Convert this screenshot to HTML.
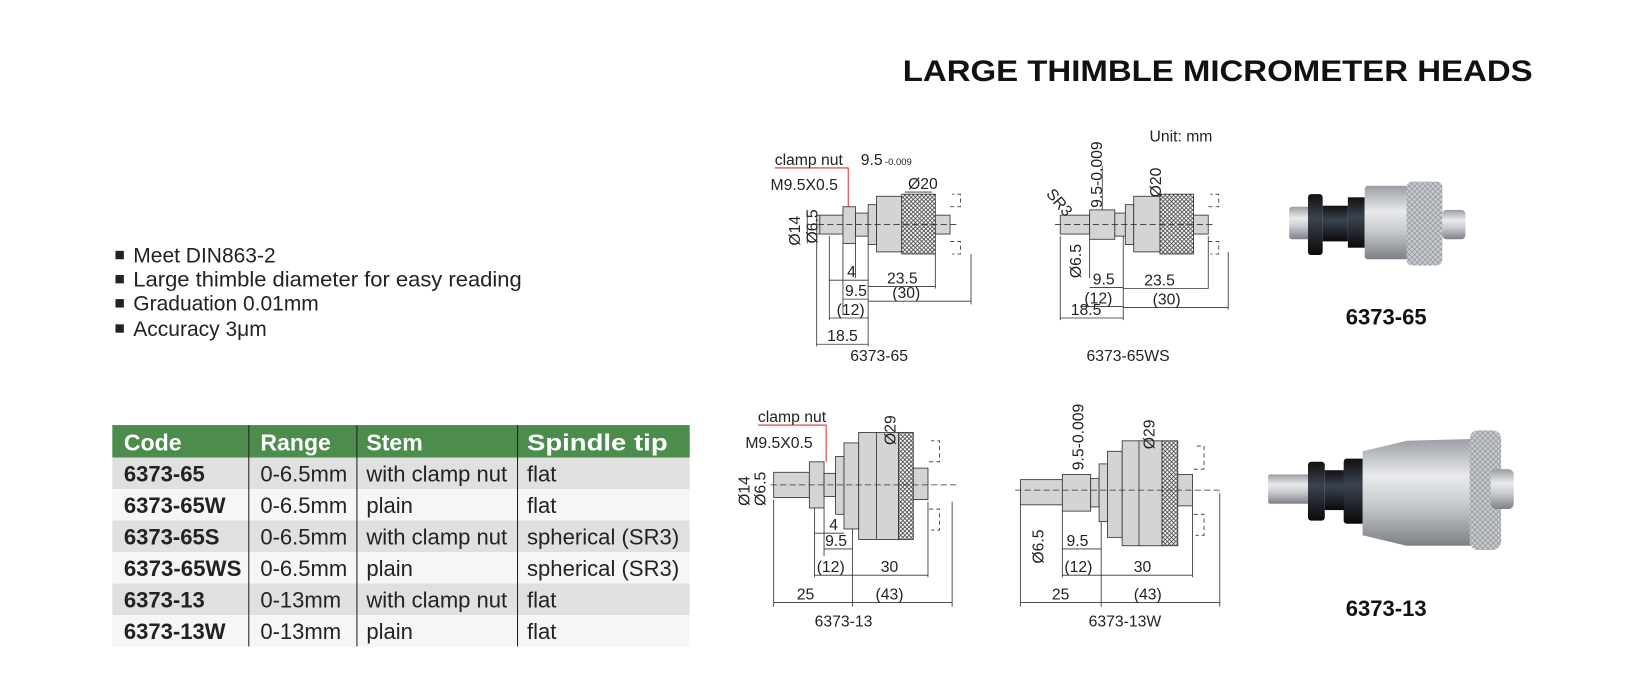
<!DOCTYPE html>
<html><head><meta charset="utf-8"><style>
html,body{margin:0;padding:0;background:#fff;}
svg{display:block;}
text{font-family:"Liberation Sans",Arial,sans-serif;}
</style></head><body>
<svg width="1646" height="699" viewBox="0 0 1568 666" preserveAspectRatio="none" xmlns="http://www.w3.org/2000/svg">
<defs>
<linearGradient id="sil" x1="0" y1="0" x2="0" y2="1">
<stop offset="0" stop-color="#9a9ea4"/><stop offset="0.35" stop-color="#e8eaec"/><stop offset="0.6" stop-color="#c9ccd0"/><stop offset="1" stop-color="#7d8187"/></linearGradient>
<linearGradient id="blk" x1="0" y1="0" x2="0" y2="1">
<stop offset="0" stop-color="#111"/><stop offset="0.4" stop-color="#3a4450"/><stop offset="1" stop-color="#0a0a0a"/></linearGradient>
<pattern id="kn" width="4" height="4" patternUnits="userSpaceOnUse"><rect width="4" height="4" fill="#fff"/><path d="M0 0L4 4M4 0L0 4" stroke="#444" stroke-width="0.8"/></pattern>
<pattern id="kn2" width="5" height="5" patternUnits="userSpaceOnUse"><rect width="5" height="5" fill="#c8cbcf"/><path d="M0 0L5 5M5 0L0 5" stroke="#8d9196" stroke-width="0.7"/></pattern>
</defs>

<text x="860" y="77" font-size="28" font-weight="bold" fill="#111" textLength="600" lengthAdjust="spacingAndGlyphs">LARGE THIMBLE MICROMETER HEADS</text>

<g font-size="20" fill="#222">
<rect x="110" y="239" width="8" height="8" fill="#222"/><text x="127" y="250">Meet DIN863-2</text>
<rect x="110" y="262" width="8" height="8" fill="#222"/><text x="127" y="273" textLength="370" lengthAdjust="spacingAndGlyphs">Large thimble diameter for easy reading</text>
<rect x="110" y="285" width="8" height="8" fill="#222"/><text x="127" y="296">Graduation 0.01mm</text>
<rect x="110" y="309" width="8" height="8" fill="#222"/><text x="127" y="320">Accuracy 3μm</text>
</g>

<!-- table -->
<rect x="107" y="405" width="550" height="31" fill="#4c8c4c"/>
<rect x="107" y="436" width="550" height="30" fill="#e0e0e0"/>
<rect x="107" y="466" width="550" height="30" fill="#f6f6f6"/>
<rect x="107" y="496" width="550" height="30" fill="#e0e0e0"/>
<rect x="107" y="526" width="550" height="30" fill="#f6f6f6"/>
<rect x="107" y="556" width="550" height="30" fill="#e0e0e0"/>
<rect x="107" y="586" width="550" height="30" fill="#f6f6f6"/>
<g stroke="#222" stroke-width="1"><line x1="237" y1="405" x2="237" y2="616"/><line x1="340" y1="405" x2="340" y2="616"/><line x1="493" y1="405" x2="493" y2="616"/></g>
<g font-size="22" font-weight="bold" fill="#fff"><text x="118" y="429">Code</text><text x="248" y="429">Range</text><text x="349" y="429">Stem</text><text x="502" y="429" textLength="134" lengthAdjust="spacingAndGlyphs">Spindle tip</text></g>
<g font-size="21" fill="#222">
<g font-weight="bold"><text x="118" y="459">6373-65</text><text x="118" y="489">6373-65W</text><text x="118" y="519">6373-65S</text><text x="118" y="549" textLength="112" lengthAdjust="spacingAndGlyphs">6373-65WS</text><text x="118" y="579">6373-13</text><text x="118" y="609">6373-13W</text></g>
<text x="248" y="459">0-6.5mm</text><text x="248" y="489">0-6.5mm</text><text x="248" y="519">0-6.5mm</text><text x="248" y="549">0-6.5mm</text><text x="248" y="579">0-13mm</text><text x="248" y="609">0-13mm</text>
<text x="349" y="459">with clamp nut</text><text x="349" y="489">plain</text><text x="349" y="519">with clamp nut</text><text x="349" y="549">plain</text><text x="349" y="579">with clamp nut</text><text x="349" y="609">plain</text>
<text x="502" y="459">flat</text><text x="502" y="489">flat</text><text x="502" y="519" textLength="145" lengthAdjust="spacingAndGlyphs">spherical (SR3)</text><text x="502" y="549" textLength="145" lengthAdjust="spacingAndGlyphs">spherical (SR3)</text><text x="502" y="579">flat</text><text x="502" y="609">flat</text>
</g>

<g stroke="#333" stroke-width="0.8" fill="#d4d4d4" font-size="15">
<!-- 6373-65 -->
<rect x="778" y="205" width="25" height="18"/>
<rect x="803" y="197" width="12" height="35"/>
<rect x="815" y="203" width="12" height="22"/>
<rect x="827" y="195" width="8" height="38"/>
<rect x="835" y="187" width="24" height="53"/>
<rect x="859" y="185" width="32" height="57" fill="url(#kn)"/>
<rect x="891" y="205" width="14" height="18"/>
<path d="M905 197h10v-12h-8M905 230h10v12h-8" fill="none" stroke-dasharray="4 3"/>
<line x1="770" y1="214" x2="912" y2="214" stroke-dasharray="6 3"/>
<text x="738" y="157" stroke="none" fill="#222">clamp nut</text>
<path d="M738 160h70v37" fill="none" stroke="#c00"/>
<text x="734" y="181" stroke="none" fill="#222">M9.5X0.5</text>
<text x="820" y="157" stroke="none" fill="#222">9.5</text><text x="843" y="157" stroke="none" fill="#222" font-size="9">-0.009</text>
<text x="865" y="180" stroke="none" fill="#222">Ø20</text>
<line x1="862" y1="183" x2="888" y2="183"/>
<line x1="769" y1="200" x2="769" y2="232"/><line x1="781" y1="205" x2="781" y2="223"/>
<text x="762" y="234" stroke="none" fill="#222" transform="rotate(-90 762 234)">Ø14</text>
<text x="779" y="232" stroke="none" fill="#222" transform="rotate(-90 779 232)">Ø6.5</text>
<line x1="778" y1="225" x2="778" y2="330"/><line x1="790" y1="225" x2="790" y2="305"/><line x1="803" y1="232" x2="803" y2="300"/><line x1="815" y1="232" x2="815" y2="265"/><line x1="827" y1="232" x2="827" y2="330"/><line x1="891" y1="242" x2="891" y2="275"/><line x1="925" y1="242" x2="925" y2="290"/>
<line x1="790" y1="267" x2="827" y2="267"/><text x="807" y="264" stroke="none" fill="#222">4</text>
<line x1="827" y1="273" x2="891" y2="273"/><text x="845" y="270" stroke="none" fill="#222">23.5</text>
<line x1="803" y1="285" x2="827" y2="285"/><text x="805" y="282" stroke="none" fill="#222">9.5</text>
<line x1="827" y1="287" x2="925" y2="287"/><text x="850" y="284" stroke="none" fill="#222">(30)</text>
<line x1="790" y1="303" x2="827" y2="303"/><text x="797" y="300" stroke="none" fill="#222">(12)</text>
<line x1="778" y1="328" x2="827" y2="328"/><text x="788" y="325" stroke="none" fill="#222">18.5</text>
<text x="810" y="344" stroke="none" fill="#222">6373-65</text>

<!-- 6373-65WS -->
<rect x="1010" y="205" width="28" height="18"/>
<rect x="1038" y="200" width="24" height="28"/>
<rect x="1062" y="203" width="10" height="22"/>
<rect x="1072" y="195" width="8" height="38"/>
<rect x="1080" y="187" width="25" height="53"/>
<rect x="1105" y="185" width="32" height="57" fill="url(#kn)"/>
<rect x="1137" y="205" width="14" height="18"/>
<path d="M1151 197h10v-12h-8M1151 230h10v12h-8" fill="none" stroke-dasharray="4 3"/>
<line x1="1005" y1="214" x2="1158" y2="214" stroke-dasharray="6 3"/>
<text x="1095" y="135" stroke="none" fill="#222">Unit: mm</text>
<text x="996" y="185" stroke="none" fill="#222" transform="rotate(50 996 185)">SR3</text>
<line x1="1050" y1="200" x2="1050" y2="158"/>
<text x="1050" y="198" stroke="none" fill="#222" transform="rotate(-90 1050 198)">9.5-0.009</text>
<text x="1106" y="188" stroke="none" fill="#222" transform="rotate(-90 1106 188)">Ø20</text>
<text x="1030" y="265" stroke="none" fill="#222" transform="rotate(-90 1030 265)">Ø6.5</text>
<line x1="1010" y1="225" x2="1010" y2="305"/><line x1="1038" y1="228" x2="1038" y2="265"/><line x1="1070" y1="225" x2="1070" y2="305"/><line x1="1151" y1="225" x2="1151" y2="275"/><line x1="1170" y1="240" x2="1170" y2="295"/>
<line x1="1038" y1="274" x2="1070" y2="274"/><text x="1041" y="271" stroke="none" fill="#222">9.5</text>
<line x1="1070" y1="275" x2="1151" y2="275"/><text x="1090" y="272" stroke="none" fill="#222">23.5</text>
<line x1="1030" y1="292" x2="1070" y2="292"/><text x="1033" y="289" stroke="none" fill="#222">(12)</text>
<line x1="1070" y1="293" x2="1170" y2="293"/><text x="1098" y="290" stroke="none" fill="#222">(30)</text>
<line x1="1010" y1="303" x2="1070" y2="303"/><text x="1020" y="300" stroke="none" fill="#222">18.5</text>
<text x="1035" y="344" stroke="none" fill="#222">6373-65WS</text>
</g>

<!-- 6373-13 -->
<g stroke="#333" stroke-width="0.8" fill="#d4d4d4" font-size="15" transform="translate(-36 0)">
<rect x="773" y="450" width="34" height="24"/>
<rect x="807" y="440" width="14" height="44"/>
<rect x="821" y="451" width="11" height="22"/>
<rect x="832" y="435" width="8" height="55"/>
<rect x="840" y="422" width="14" height="82"/>
<rect x="854" y="412" width="38" height="102"/>
<rect x="892" y="412" width="14" height="102" fill="url(#kn)"/>
<rect x="906" y="446" width="14" height="30"/>
<path d="M921 440h10v-20h-8M921 485h10v20h-8" fill="none" stroke-dasharray="4 3"/>
<line x1="770" y1="462" x2="950" y2="462" stroke-dasharray="6 3"/>
<text x="758" y="402" stroke="none" fill="#222">clamp nut</text>
<path d="M758 405h65v35" fill="none" stroke="#c00"/>
<text x="746" y="427" stroke="none" fill="#222">M9.5X0.5</text>
<text x="889" y="424" stroke="none" fill="#222" transform="rotate(-90 889 424)">Ø29</text>
<line x1="871" y1="412" x2="871" y2="514"/>
<text x="750" y="482" stroke="none" fill="#222" transform="rotate(-90 750 482)">Ø14</text>
<text x="765" y="482" stroke="none" fill="#222" transform="rotate(-90 765 482)">Ø6.5</text>
<line x1="773" y1="476" x2="773" y2="578"/><line x1="812" y1="484" x2="812" y2="550"/><line x1="821" y1="484" x2="821" y2="530"/><line x1="848" y1="504" x2="848" y2="578"/><line x1="943" y1="478" x2="943" y2="578"/><line x1="920" y1="478" x2="920" y2="550"/>
<line x1="812" y1="508" x2="840" y2="508"/><text x="826" y="505" stroke="none" fill="#222">4</text>
<line x1="821" y1="523" x2="848" y2="523"/><text x="822" y="520" stroke="none" fill="#222">9.5</text>
<line x1="812" y1="548" x2="848" y2="548"/><text x="814" y="545" stroke="none" fill="#222">(12)</text>
<line x1="848" y1="548" x2="920" y2="548"/><text x="875" y="545" stroke="none" fill="#222">30</text>
<line x1="773" y1="574" x2="848" y2="574"/><text x="795" y="571" stroke="none" fill="#222">25</text>
<line x1="848" y1="574" x2="943" y2="574"/><text x="870" y="571" stroke="none" fill="#222">(43)</text>
<text x="812" y="597" stroke="none" fill="#222">6373-13</text>
</g>

<!-- 6373-13W -->
<g stroke="#333" stroke-width="0.8" fill="#d4d4d4" font-size="15" transform="translate(-48 0)">
<rect x="1020" y="457" width="40" height="24"/>
<rect x="1060" y="452" width="27" height="35"/>
<rect x="1087" y="456" width="8" height="27"/>
<rect x="1095" y="442" width="8" height="55"/>
<rect x="1103" y="430" width="14" height="82"/>
<rect x="1117" y="420" width="38" height="100"/>
<rect x="1155" y="420" width="15" height="100" fill="url(#kn)"/>
<rect x="1170" y="452" width="14" height="30"/>
<path d="M1185 447h10v-22h-8M1185 490h10v20h-8" fill="none" stroke-dasharray="4 3"/>
<line x1="1015" y1="467" x2="1210" y2="467" stroke-dasharray="6 3"/>
<text x="1080" y="448" stroke="none" fill="#222" transform="rotate(-90 1080 448)">9.5-0.009</text>
<text x="1148" y="428" stroke="none" fill="#222" transform="rotate(-90 1148 428)">Ø29</text>
<line x1="1133" y1="420" x2="1133" y2="520"/>
<text x="1042" y="537" stroke="none" fill="#222" transform="rotate(-90 1042 537)">Ø6.5</text>
<line x1="1020" y1="481" x2="1020" y2="578"/><line x1="1060" y1="487" x2="1060" y2="550"/><line x1="1097" y1="497" x2="1097" y2="578"/><line x1="1184" y1="482" x2="1184" y2="550"/><line x1="1210" y1="470" x2="1210" y2="578"/>
<line x1="1060" y1="523" x2="1097" y2="523"/><text x="1064" y="520" stroke="none" fill="#222">9.5</text>
<line x1="1060" y1="548" x2="1097" y2="548"/><text x="1062" y="545" stroke="none" fill="#222">(12)</text>
<line x1="1097" y1="548" x2="1184" y2="548"/><text x="1128" y="545" stroke="none" fill="#222">30</text>
<line x1="1020" y1="574" x2="1097" y2="574"/><text x="1050" y="571" stroke="none" fill="#222">25</text>
<line x1="1097" y1="574" x2="1210" y2="574"/><text x="1128" y="571" stroke="none" fill="#222">(43)</text>
<text x="1085" y="597" stroke="none" fill="#222">6373-13W</text>
</g>

<!-- photo 6373-65 -->
<rect x="1228" y="197" width="20" height="31" rx="3" fill="url(#sil)"/>
<rect x="1246" y="185" width="14" height="58" rx="3" fill="url(#blk)"/>
<rect x="1260" y="196" width="24" height="34" fill="url(#blk)"/>
<rect x="1284" y="188" width="16" height="48" fill="url(#blk)"/>
<rect x="1300" y="177" width="42" height="70" rx="3" fill="url(#sil)"/>
<rect x="1340" y="173" width="34" height="80" rx="5" fill="url(#kn2)"/>
<rect x="1374" y="200" width="22" height="28" rx="4" fill="url(#sil)"/>
<text x="1282" y="309" font-size="21" font-weight="bold" fill="#111">6373-65</text>

<!-- photo 6373-13 -->
<rect x="1208" y="452" width="40" height="28" rx="2" fill="url(#sil)"/>
<rect x="1246" y="440" width="16" height="56" rx="3" fill="url(#blk)"/>
<rect x="1262" y="448" width="20" height="38" fill="url(#blk)"/>
<rect x="1280" y="437" width="20" height="62" rx="3" fill="url(#blk)"/>
<path d="M1298 430 L1340 420 L1410 418 L1410 520 L1340 520 L1298 510Z" fill="url(#sil)"/>
<rect x="1400" y="410" width="30" height="114" rx="8" fill="url(#kn2)"/>
<rect x="1420" y="447" width="22" height="38" rx="5" fill="url(#sil)"/>
<text x="1282" y="587" font-size="21" font-weight="bold" fill="#111">6373-13</text>
</svg>
</body></html>
